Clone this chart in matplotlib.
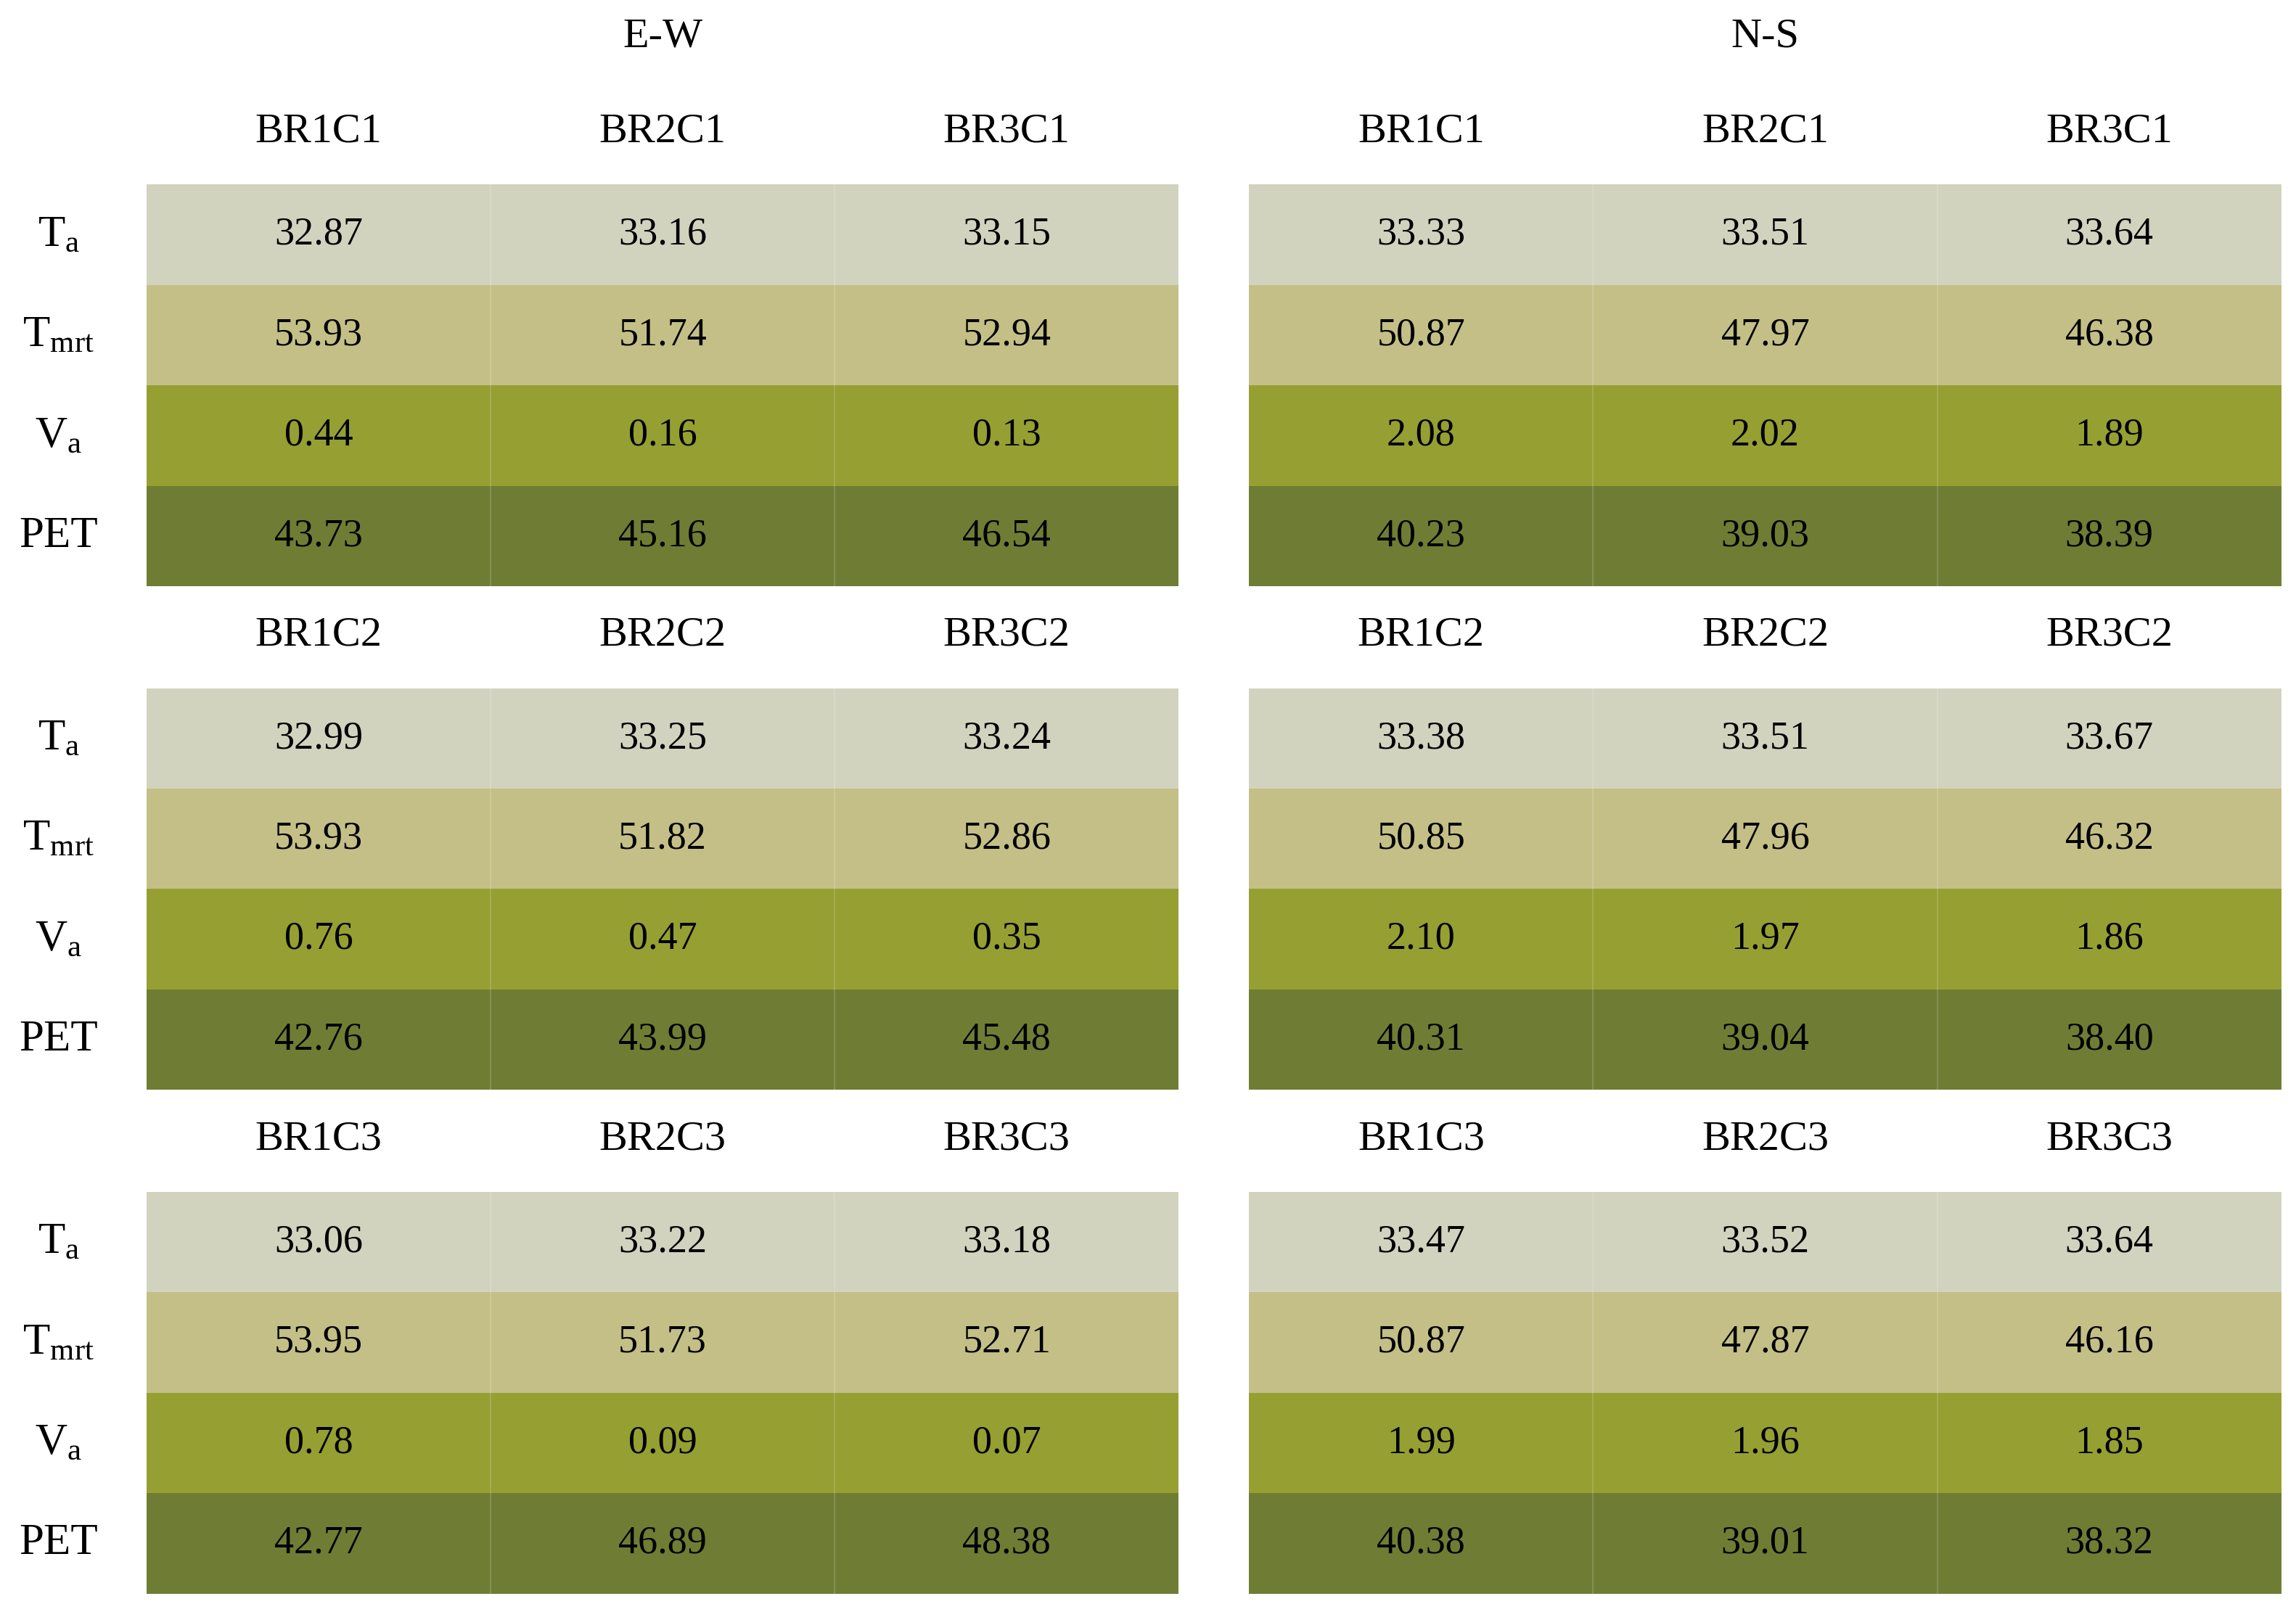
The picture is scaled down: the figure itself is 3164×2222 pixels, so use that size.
import matplotlib
matplotlib.use("Agg")
import matplotlib.pyplot as plt
from matplotlib.patches import Rectangle

plt.rcParams['font.family'] = ['Liberation Serif', 'DejaVu Serif']
plt.rcParams['mathtext.fontset'] = 'custom'
plt.rcParams['mathtext.rm'] = 'Liberation Serif'
plt.rcParams['mathtext.it'] = 'Liberation Serif'

orientations = ["E-W", "N-S"]
row_labels = [r"T$_\mathrm{a}$", r"T$_\mathrm{mrt}$", r"V$_\mathrm{a}$", "PET"]
row_colors = ["#d1d3bf", "#c4bf86", "#969f32", "#6f7d34"]
col_names = [["BR1C1", "BR2C1", "BR3C1"], ["BR1C2", "BR2C2", "BR3C2"], ["BR1C3", "BR2C3", "BR3C3"]]

# values[group][orientation][row][col]
ew_c1 = [["32.87", "33.16", "33.15"], ["53.93", "51.74", "52.94"], ["0.44", "0.16", "0.13"], ["43.73", "45.16", "46.54"]]
ns_c1 = [["33.33", "33.51", "33.64"], ["50.87", "47.97", "46.38"], ["2.08", "2.02", "1.89"], ["40.23", "39.03", "38.39"]]
ew_c2 = [["32.99", "33.25", "33.24"], ["53.93", "51.82", "52.86"], ["0.76", "0.47", "0.35"], ["42.76", "43.99", "45.48"]]
ns_c2 = [["33.38", "33.51", "33.67"], ["50.85", "47.96", "46.32"], ["2.10", "1.97", "1.86"], ["40.31", "39.04", "38.40"]]
ew_c3 = [["33.06", "33.22", "33.18"], ["53.95", "51.73", "52.71"], ["0.78", "0.09", "0.07"], ["42.77", "46.89", "48.38"]]
ns_c3 = [["33.47", "33.52", "33.64"], ["50.87", "47.87", "46.16"], ["1.99", "1.96", "1.85"], ["40.38", "39.01", "38.32"]]
values = [[ew_c1, ns_c1], [ew_c2, ns_c2], [ew_c3, ns_c3]]

W, H = 1568, 1101
fig = plt.figure(figsize=(31.64, 22.22), dpi=100)
ax = fig.add_axes([0, 0, 1, 1])
ax.set_xlim(0, W); ax.set_ylim(H, 0); ax.axis('off')

tbl_x0 = [100, 853]
tbl_w = 705
cw = tbl_w / 3
rh = 68.6
grp_y0 = [126, 470, 814]

for o, name in enumerate(orientations):
    ax.text(tbl_x0[o] + tbl_w / 2, 25, name, ha='center', va='center', fontsize=42)

for g in range(3):
    y0 = grp_y0[g]
    for o in range(2):
        x0 = tbl_x0[o]
        for c in range(3):
            ax.text(x0 + cw * (c + 0.5), y0 - 36, col_names[g][c], ha='center', va='center', fontsize=42)
        for r in range(4):
            ax.add_patch(Rectangle((x0, y0 + r * rh), tbl_w, rh, facecolor=row_colors[r], edgecolor='none'))
            for c in range(3):
                ax.text(x0 + cw * (c + 0.5), y0 + (r + 0.5) * rh, values[g][o][r][c],
                        ha='center', va='center', fontsize=39)
        for c in (1, 2):
            ax.plot([x0 + cw * c] * 2, [y0, y0 + 4 * rh], color='white', alpha=0.15, lw=1.5)
    for r in range(4):
        ax.text(40, y0 + (r + 0.5) * rh, row_labels[r], ha='center', va='center', fontsize=44)

fig.savefig("out.png", dpi=100)
